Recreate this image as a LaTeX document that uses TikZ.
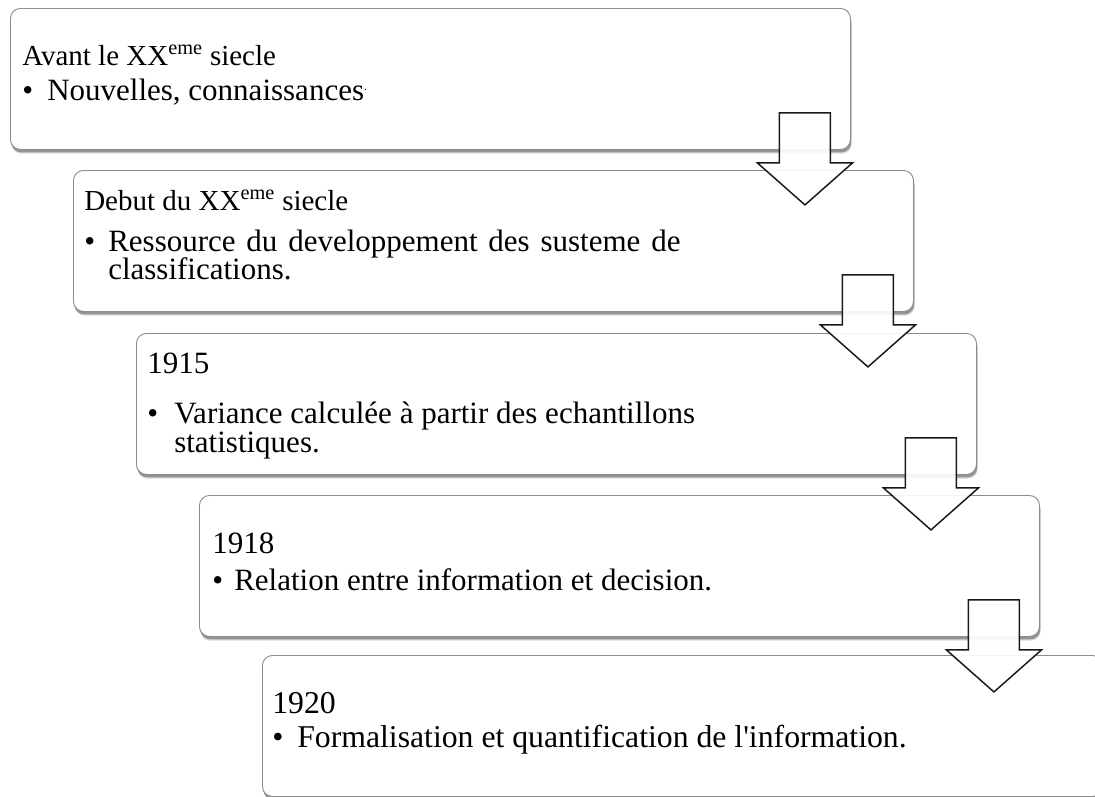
\documentclass[tikz,border=0pt]{standalone}
\usepackage{fontspec}
\setmainfont{Liberation Serif}[Ligatures=TeXOff]
\usetikzlibrary{calc,shadows}

\begin{document}
\begin{tikzpicture}[
  x=0.75pt, y=-0.75pt,
  stagebox/.style={draw=black!45, line width=0.7pt, fill=white,
    rounded corners=7.5pt, minimum width=630pt, minimum height=105.75pt,
    anchor=north west, inner sep=0pt,
    drop shadow={shadow xshift=0.6pt, shadow yshift=-2.2pt, opacity=0.45, fill=black!70},
    general shadow={shadow xshift=0.9pt, shadow yshift=-3.2pt, opacity=0.15, fill=black}},
  headtxt/.style={anchor=base west, inner sep=0pt, font=\fontsize{23.25}{26}\selectfont},
  smallhead/.style={anchor=base west, inner sep=0pt, font=\fontsize{21.75}{24}\selectfont},
  bodytxt/.style={anchor=base west, inner sep=0pt, font=\fontsize{23.25}{26}\selectfont},
  widetxt/.style={anchor=base west, inner sep=0pt, font=\fontsize{23.8}{26}\selectfont},
  flowarrow/.style={draw=black!90, line width=1.1pt, fill=white, fill opacity=0.92, line join=miter}
]
\useasboundingbox (0,0) rectangle (1095,796);

% stage boxes, each one stepped down and to the right
\node[stagebox] (b1) at (10,8) {};
\node[stagebox] (b2) at (73,170) {};
\node[stagebox] (b3) at (136,333) {};
\node[stagebox] (b4) at (199,495) {};
\node[stagebox] (b5) at (262,655) {};

% box 1
\node[smallhead] (h1) at ($(b1.north west)+(12,57)$) {Avant le XX\textsuperscript{eme} siecle};
\node[bodytxt] (d1) at ($(b1.north west)+(12,92)$) {•};
\node[bodytxt] (t1) at ($(b1.north west)+(37,92)$) {Nouvelles, connaissances\raisebox{7pt}{\fontsize{9}{9}\selectfont .}};

% box 2 (first bullet line is justified, hence the wider word spaces)
\node[smallhead] (h2) at ($(b2.north west)+(11,40)$) {Debut du XX\textsuperscript{eme} siecle};
\node[bodytxt] (d2) at ($(b2.north west)+(11,81)$) {•};
\node[bodytxt] (t2a) at ($(b2.north west)+(35,81)$) {\spaceskip=8.1pt Ressource du developpement des susteme de};
\node[bodytxt] (t2b) at ($(b2.north west)+(35,109)$) {classifications.};

% box 3
\node[headtxt] (h3) at ($(b3.north west)+(11,40)$) {1915};
\node[bodytxt] (d3) at ($(b3.north west)+(11,90)$) {•};
\node[bodytxt] (t3a) at ($(b3.north west)+(38,90)$) {Variance calculée à partir des echantillons};
\node[bodytxt] (t3b) at ($(b3.north west)+(38,119)$) {statistiques.};

% box 4
\node[headtxt] (h4) at ($(b4.north west)+(13,58)$) {1918};
\node[bodytxt] (d4) at ($(b4.north west)+(13,95)$) {•};
\node[bodytxt] (t4) at ($(b4.north west)+(35,95)$) {Relation entre information et decision.};

% box 5
\node[widetxt] (h5) at ($(b5.north west)+(10,58)$) {1920};
\node[widetxt] (d5) at ($(b5.north west)+(10,92)$) {•};
\node[widetxt] (t5) at ($(b5.north west)+(35,92)$) {Formalisation et quantification de l'information.};

% block arrows from each box down into the next one
\foreach \b in {b1,b2,b3,b4}{
  \draw[flowarrow]
    ($(\b.south east)+(-71.5,-37)$) -- ($(\b.south east)+(-20.5,-37)$)
    -- ($(\b.south east)+(-20.5,13)$) -- ($(\b.south east)+(1.5,13)$)
    -- ($(\b.south east)+(-46,55)$) -- ($(\b.south east)+(-93.5,13)$)
    -- ($(\b.south east)+(-71.5,13)$) -- cycle;
}
\end{tikzpicture}
\end{document}
